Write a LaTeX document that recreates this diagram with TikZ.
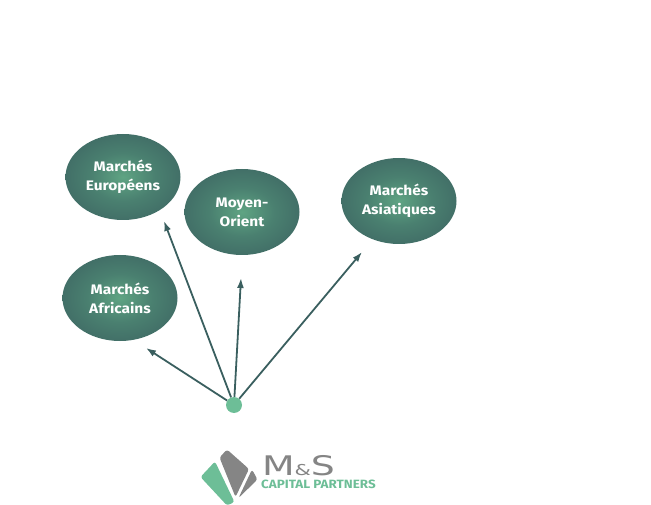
\documentclass[tikz,border=0pt]{standalone}
\usepackage{fontspec}
\usepackage{xcolor}
\setmainfont{Fira Sans}
\newfontfamily\brandfont[FakeStretch=1.4]{DejaVu Sans}
\newfontfamily\marketfont[FakeStretch=1.12]{Fira Sans}
\usetikzlibrary{shapes.geometric,arrows.meta}
\definecolor{darkteal}{HTML}{3A5F5F}
\definecolor{midgreen}{HTML}{5FA483}
\definecolor{stepgreen}{HTML}{4A8070}
\definecolor{lightgreen}{HTML}{6DBE97}
\definecolor{logogray}{HTML}{858585}
\pgfdeclareradialshading{marketglow}{\pgfpoint{0bp}{0bp}}{color(0bp)=(midgreen); color(14bp)=(stepgreen); color(36bp)=(darkteal); color(100bp)=(darkteal)}

\begin{document}
\begin{tikzpicture}[x=1pt, y=-1pt,
    market/.style={ellipse, shading=marketglow, minimum width=115pt, minimum height=86pt, inner sep=0pt, align=center, text=white, font=\marketfont\fontsize{13.8}{19}\selectfont\bfseries},
    link/.style={draw=darkteal, line width=1.8pt, -{Latex[length=10pt,width=7pt]}},
    logopart/.style={rounded corners=2.5pt}]
  \useasboundingbox (0,0) rectangle (651,505);

  \node[market] (EU) at (123,177) {Marchés\\Européens};
  \node[market] (MO) at (242,212) {Moyen-\\Orient};
  \node[market] (AS) at (399,201) {Marchés\\Asiatiques};
  \node[market] (AF) at (120,298) {Marchés\\Africains};

  \node (hub) at (234,405) [circle, fill=lightgreen, minimum size=16pt, inner sep=0pt] {};

  \coordinate (tipEU) at (164,221);
  \coordinate (tipMO) at (241,278);
  \coordinate (tipAS) at (362,252);
  \coordinate (tipAF) at (146,348);

  % one arrow per market, all from the hub
  \draw[link] (hub) -- (tipEU);
  \draw[link] (hub) -- (tipMO);
  \draw[link] (hub) -- (tipAS);
  \draw[link] (hub) -- (tipAF);

  % logo
  \fill[logopart, lightgreen] (215,461.5) -- (200.5,477) -- (227,505.5) -- (234.5,502) -- cycle;
  \fill[logopart, logogray] (227,449.5) -- (219.5,457.5) -- (235.5,497) -- (249,469) -- cycle;
  \fill[logopart, logogray] (252,469.5) -- (238.5,498) -- (257.5,479.5) -- cycle;

  \node (brand) at (298.5,465.5) [inner sep=0pt, text=logogray, font=\brandfont\fontsize{27}{27}\selectfont] {M{\fontsize{15}{15}\selectfont\&}S};
  \node (tagline) at (318.5,484.5) [inner sep=0pt, text=lightgreen, font=\marketfont\fontsize{12}{12}\selectfont\bfseries] {CAPITAL PARTNERS};
\end{tikzpicture}
\end{document}
